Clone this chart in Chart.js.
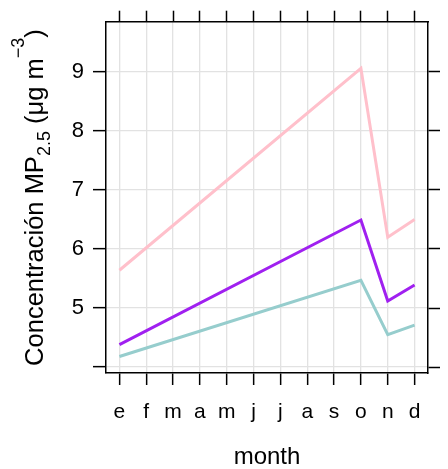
<!DOCTYPE html>
<html>
<head>
<meta charset="utf-8">
<script src="https://cdn.jsdelivr.net/npm/chart.js@4.4.0/dist/chart.umd.min.js"></script>
<style>
  html, body { margin: 0; padding: 0; background: #fff; }
</style>
</head>
<body>
<canvas id="myChart" width="448" height="469"></canvas>
<script>
// months (Spanish initials)
const months = ['e', 'f', 'm', 'a', 'm', 'j', 'j', 'a', 's', 'o', 'n', 'd'];

// only e, o, n, d have values; the line spans the gap
const pinkValues   = [5.64, null, null, null, null, null, null, null, null, 9.06, 6.20, 6.50];
const purpleValues = [4.38, null, null, null, null, null, null, null, null, 6.49, 5.12, 5.39];
const tealValues   = [4.18, null, null, null, null, null, null, null, null, 5.47, 4.55, 4.71];

const yTickValues = [4, 5, 6, 7, 8, 9];
const yTickLabels = ['', '5', '6', '7', '8', '9'];

const FONT = '"Liberation Sans", Arial, Helvetica, sans-serif';
const GRID = '#e2e2e2';

function fixedTicks(scale) {
  scale.ticks = yTickValues.map(v => ({ value: v }));
}

// axis titles, the y one needs sub/superscripts
const titlesPlugin = {
  id: 'titles',
  afterDraw(chart) {
    const ctx = chart.ctx;
    const area = chart.chartArea;
    ctx.save();
    ctx.fillStyle = '#000';
    ctx.textBaseline = 'alphabetic';

    // x title
    ctx.font = '24px ' + FONT;
    ctx.textAlign = 'center';
    ctx.fillText('month', (area.left + area.right) / 2, 464);

    // y title, rotated
    const parts = [
      { text: 'Concentración MP', size: 25.5, dy: 0 },
      { text: '2.5', size: 18, dy: 7 },
      { text: ' (μg m', size: 25.5, dy: 0 },
      { text: '\u22123', size: 18, dy: -19 },
      { text: ')', size: 25.5, dy: 0 },
    ];
    let total = 0;
    parts.forEach(p => {
      ctx.font = p.size + 'px ' + FONT;
      p.w = ctx.measureText(p.text).width;
      total += p.w;
    });
    ctx.translate(43, (area.top + area.bottom) / 2);
    ctx.rotate(-Math.PI / 2);
    ctx.textAlign = 'left';
    let x = -total / 2;
    parts.forEach(p => {
      ctx.font = p.size + 'px ' + FONT;
      ctx.fillText(p.text, x, p.dy);
      x += p.w;
    });
    ctx.restore();
  }
};

const lineStyle = { borderWidth: 3, pointRadius: 0, tension: 0, spanGaps: true, fill: false };

new Chart('myChart', {
  type: 'line',
  data: {
    labels: months,
    datasets: [
      { label: 'pink', data: pinkValues, borderColor: '#FFC0CB', ...lineStyle },
      { label: 'purple', data: purpleValues, borderColor: '#A020F0', ...lineStyle },
      { label: 'teal', data: tealValues, borderColor: '#96CDCD', ...lineStyle },
    ],
  },
  options: {
    responsive: false,
    animation: false,
    layout: { padding: 0 },
    plugins: { legend: { display: false }, tooltip: { enabled: false } },
    scales: {
      x: {
        type: 'category',
        position: 'bottom',
        offset: true,
        grid: { color: GRID, lineWidth: 1.3, tickColor: '#000', tickLength: 12, tickWidth: 1.5 },
        border: { color: '#000', width: 1.5 },
        ticks: { color: '#000', font: { size: 21, family: FONT }, padding: 15, maxRotation: 0, autoSkip: false },
        afterFit(s) { s.height = 96; },
      },
      x2: {
        type: 'category',
        position: 'top',
        offset: true,
        grid: { drawOnChartArea: false, tickColor: '#000', tickLength: 11.5, tickWidth: 1.5 },
        border: { color: '#000', width: 1.5 },
        ticks: { display: false },
        afterFit(s) { s.height = 21; },
      },
      y: {
        type: 'linear',
        position: 'left',
        min: 3.9,
        max: 9.84,
        afterBuildTicks: fixedTicks,
        grid: { color: GRID, lineWidth: 1.3, tickColor: '#000', tickLength: 13, tickWidth: 1.5 },
        border: { color: '#000', width: 1.5 },
        ticks: {
          color: '#000',
          font: { size: 22, family: FONT },
          padding: 9,
          callback: v => yTickLabels[yTickValues.indexOf(v)],
        },
        afterFit(s) { s.width = 106; },
      },
      y2: {
        type: 'linear',
        position: 'right',
        min: 3.9,
        max: 9.84,
        afterBuildTicks: fixedTicks,
        grid: { drawOnChartArea: false, tickColor: '#000', tickLength: 12, tickWidth: 1.5 },
        border: { color: '#000', width: 1.5 },
        ticks: { display: false },
        afterFit(s) { s.width = 20; },
      },
    },
  },
  plugins: [titlesPlugin],
});
</script>
</body>
</html>
